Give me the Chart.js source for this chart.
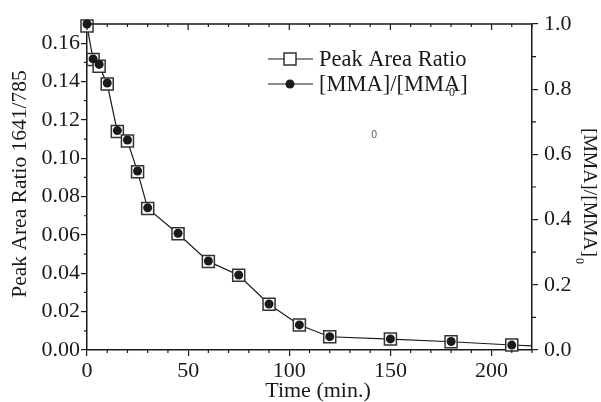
<!DOCTYPE html>
<html>
<head>
<meta charset="utf-8">
<script src="https://cdn.jsdelivr.net/npm/chart.js@4.4.1/dist/chart.umd.min.js"></script>
<style>
  html, body { margin: 0; padding: 0; background: #fff; }
  #wrap { position: relative; width: 601px; height: 402px; }
</style>
</head>
<body>
<div id="wrap"><canvas id="chart"></canvas></div>
<script>
// time in minutes
const times = [0, 3, 6, 10, 15, 20, 25, 30, 45, 60, 75, 90, 105, 120, 150, 180, 210];
// peak area ratio 1641/785 (left axis)
const peakRatio = [0.169, 0.1515, 0.148, 0.1387, 0.1139, 0.109, 0.093, 0.0738, 0.0606,
  0.0462, 0.039, 0.0239, 0.013, 0.0069, 0.0057, 0.0043, 0.0026];
// [MMA]/[MMA]0 (right axis)
const mmaRatio = [1.0, 0.893, 0.876, 0.819, 0.673, 0.644, 0.549, 0.436, 0.358,
  0.273, 0.23, 0.141, 0.077, 0.041, 0.034, 0.026, 0.015];
// line runs on to the right frame
const tailTime = 220;
const tailRatio = 0.0022;

const xTicks = [0, 50, 100, 150, 200];
const leftTicks = [0, 0.02, 0.04, 0.06, 0.08, 0.10, 0.12, 0.14, 0.16];
const rightTicks = [0, 0.2, 0.4, 0.6, 0.8, 1.0];

const serif = "'Liberation Serif', 'Times New Roman', serif";
const ink = "#1a1a1a";

const lineData = times.map((t, i) => ({ x: t, y: peakRatio[i] }));
lineData.push({ x: tailTime, y: tailRatio });

// minor ticks, top axis and titles with subscripts
const extras = {
  id: "extras",
  afterDraw(chart) {
    const { ctx, chartArea: a, scales } = chart;
    const x = scales.x, y = scales.y, y1 = scales.y1;
    ctx.save();
    ctx.strokeStyle = ink;
    ctx.lineWidth = 1.5;
    // top frame line
    ctx.beginPath();
    ctx.moveTo(a.left, a.top);
    ctx.lineTo(a.right, a.top);
    ctx.stroke();
    ctx.lineWidth = 1.2;
    ctx.beginPath();
    for (let v = 0; v <= 220; v += 10) {
      const px = x.getPixelForValue(v);
      const major = v % 50 === 0;
      // bottom minor (outward)
      if (!major) { ctx.moveTo(px, a.bottom); ctx.lineTo(px, a.bottom + 3); }
      // top ticks (inward)
      ctx.moveTo(px, a.top);
      ctx.lineTo(px, a.top + (major ? 6 : 3));
    }
    for (let v = 0.01; v < 0.17; v += 0.02) {
      const py = y.getPixelForValue(v);
      ctx.moveTo(a.left, py); ctx.lineTo(a.left - 3, py);
    }
    for (let v = 0.1; v < 1; v += 0.2) {
      const py = y1.getPixelForValue(v);
      ctx.moveTo(a.right, py); ctx.lineTo(a.right + 4, py);
    }
    ctx.stroke();

    ctx.fillStyle = ink;
    ctx.textBaseline = "middle";
    ctx.textAlign = "center";
    // bottom title
    ctx.font = "22px " + serif;
    ctx.fillText("Time (min.)", 318, 391);
    // left title
    ctx.save();
    ctx.font = "21.5px " + serif;
    ctx.translate(20, 184);
    ctx.rotate(-Math.PI / 2);
    ctx.fillText("Peak Area Ratio 1641/785", 0, 0);
    ctx.restore();
    // right title, reads top to bottom
    ctx.save();
    ctx.font = "19.5px " + serif;
    ctx.translate(589, 128);
    ctx.rotate(Math.PI / 2);
    ctx.textAlign = "left";
    const main = "[MMA]/[MMA]";
    ctx.fillText(main, 0, 0);
    const w = ctx.measureText(main).width;
    ctx.font = "12px " + serif;
    ctx.fillText("0", w + 1, 10);
    ctx.restore();

    // legend
    const lx = 319;
    const rows = [59, 84];
    ctx.lineWidth = 1;
    rows.forEach((ry) => {
      ctx.beginPath();
      ctx.moveTo(268, ry); ctx.lineTo(313, ry);
      ctx.stroke();
    });
    ctx.fillStyle = "#fff";
    ctx.strokeStyle = "#333";
    ctx.lineWidth = 1.5;
    ctx.fillRect(284, rows[0] - 6, 12, 12);
    ctx.strokeRect(284, rows[0] - 6, 12, 12);
    ctx.fillStyle = ink;
    ctx.beginPath();
    ctx.arc(290, rows[1], 4.5, 0, Math.PI * 2);
    ctx.fill();
    ctx.font = "22.5px " + serif;
    ctx.textAlign = "left";
    ctx.fillText("Peak Area Ratio", lx, rows[0] + 1);
    const t2 = "[MMA]/[MMA";
    ctx.fillText(t2, lx, rows[1] + 1);
    const w2 = ctx.measureText(t2).width;
    ctx.fillText("]", lx + w2, rows[1] + 1);
    ctx.font = "12px " + serif;
    ctx.fillText("0", 449, 93);
    // stray subscript left in the plot
    ctx.fillStyle = "#666";
    ctx.font = "10px 'DejaVu Sans', sans-serif";
    ctx.fillText("0", 371, 135);
    ctx.restore();
  }
};

new Chart(document.getElementById("chart"), {
  type: "scatter",
  data: {
    datasets: [
      {
        label: "[MMA]/[MMA]0",
        data: times.map((t, i) => ({ x: t, y: mmaRatio[i] })),
        yAxisID: "y1",
        showLine: false,
        pointStyle: "circle",
        pointRadius: 4.5,
        pointBackgroundColor: ink,
        pointBorderWidth: 0,
        clip: false,
        order: 0,
      },
      {
        label: "Peak Area Ratio",
        data: lineData,
        yAxisID: "y",
        showLine: true,
        borderColor: ink,
        borderWidth: 1.2,
        pointStyle: "rect",
        pointRadius: (c) => (c.dataIndex < times.length ? 8.5 : 0),
        pointBackgroundColor: "#fff",
        pointBorderColor: "#333",
        pointBorderWidth: 1.5,
        clip: false,
        order: 1,
      },
    ],
  },
  options: {
    responsive: true,
    maintainAspectRatio: false,
    animation: false,
    layout: { padding: { top: 24, left: 0, right: 0, bottom: 0 } },
    plugins: { legend: { display: false }, tooltip: { enabled: false } },
    scales: {
      x: {
        type: "linear",
        min: 0,
        max: 220,
        afterFit: (s) => { s.height = 52; },
        afterBuildTicks: (s) => { s.ticks = xTicks.map((v) => ({ value: v })); },
        border: { display: true, color: ink, width: 1.5 },
        grid: { drawOnChartArea: false, drawTicks: true, tickLength: 6, color: ink, lineWidth: 1.2 },
        ticks: { color: ink, padding: 2, font: { family: serif, size: 22 }, maxRotation: 0 },
      },
      y: {
        position: "left",
        min: 0,
        max: 0.17,
        afterFit: (s) => { s.width = 87; },
        afterBuildTicks: (s) => { s.ticks = leftTicks.map((v) => ({ value: v })); },
        border: { display: true, color: ink, width: 1.5 },
        grid: { drawOnChartArea: false, drawTicks: true, tickLength: 6, color: ink, lineWidth: 1.2 },
        ticks: {
          color: ink,
          padding: 1,
          font: { family: serif, size: 22 },
          callback: (v) => v.toFixed(2),
        },
      },
      y1: {
        position: "right",
        min: 0,
        max: 1.0,
        afterFit: (s) => { s.width = 69; },
        afterBuildTicks: (s) => { s.ticks = rightTicks.map((v) => ({ value: v })); },
        border: { display: true, color: ink, width: 1.5 },
        grid: { drawOnChartArea: false, drawTicks: true, tickLength: 6, color: ink, lineWidth: 1.2 },
        ticks: {
          color: ink,
          padding: 6,
          font: { family: serif, size: 22 },
          callback: (v) => v.toFixed(1),
        },
      },
    },
  },
  plugins: [extras],
});
</script>
</body>
</html>
